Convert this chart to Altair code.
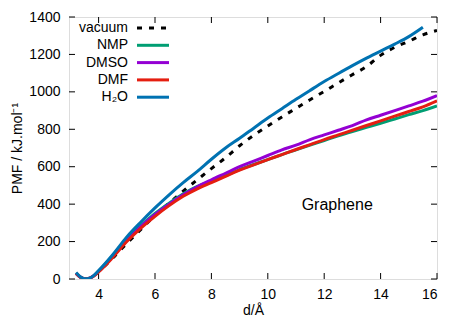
import altair as alt
import pandas as pd

# ---- data ----
x_sol = [3.2, 3.35, 3.5, 3.65, 3.8, 4.0, 4.5, 5.0, 5.5, 6.0, 6.5, 7.0, 7.5, 8.0, 8.5,
         9.0, 9.5, 10.0, 10.5, 11.0, 11.5, 12.0, 12.5, 13.0, 13.5, 14.0, 14.5, 15.0, 15.5, 16.0]
nmp = [30, 10, 1, 3, 14, 42, 125, 210, 285, 350, 405, 455, 495, 522, 552,
       585, 612, 638, 665, 690, 715, 740, 765, 788, 810, 832, 855, 878, 900, 925]
dmso = [30, 10, 1, 3, 14, 40, 120, 205, 280, 345, 400, 450, 493, 530, 565,
        600, 630, 660, 690, 715, 745, 770, 795, 820, 850, 875, 900, 925, 950, 980]
dmf = [30, 10, 1, 3, 13, 38, 115, 200, 272, 335, 392, 442, 482, 515, 548,
       582, 610, 638, 665, 692, 718, 745, 770, 795, 820, 845, 870, 895, 920, 952]

x_h2o = [3.2, 3.35, 3.5, 3.65, 3.8, 4.0, 4.5, 5.0, 5.5, 6.0, 6.5, 7.0, 7.5, 8.0, 8.5,
         9.0, 9.5, 10.0, 10.5, 11.0, 11.5, 12.0, 12.5, 13.0, 13.5, 14.0, 14.5, 15.0, 15.5]
h2o = [35, 12, 2, 3, 15, 45, 130, 225, 305, 380, 450, 515, 575, 640, 700,
       752, 806, 860, 910, 960, 1008, 1055, 1098, 1140, 1180, 1218, 1255, 1295, 1345]

x_vac = [3.5, 3.7, 4.0, 4.5, 5.0, 5.5, 6.0, 6.5, 7.0, 7.5, 8.0, 8.5, 9.0, 9.5, 10.0,
         10.5, 11.0, 11.5, 12.0, 12.5, 13.0, 13.5, 14.0, 14.5, 15.0, 15.5, 16.0]
vacuum = [0, 6, 40, 112, 190, 265, 340, 405, 470, 530, 590, 648, 712, 768, 818,
          866, 912, 958, 1002, 1048, 1092, 1135, 1195, 1238, 1270, 1305, 1328]

series_names = ["vacuum", "NMP", "DMSO", "DMF", "H\u2082O"]
series_colors = ["#000000", "#009e73", "#9400d3", "#e51e10", "#0072b2"]

x_ticks = [4, 6, 8, 10, 12, 14, 16]
y_ticks = [0, 200, 400, 600, 800, 1000, 1200, 1400]

annot_text = ["Graphene"]
annot_x = [11.2]
annot_y = [395]

# ---- layout ----
W, H = 368, 262
FONT = "Liberation Sans"
xs = alt.Scale(domain=[2.95, 16], nice=False, zero=False)
ys = alt.Scale(domain=[0, 1400], nice=False)
X_TITLE = "d/\u00c5"
Y_TITLE = "PMF / kJ.mol\u207b\u00b9"

ax_x = alt.Axis(values=x_ticks, ticks=False, grid=False, domain=False,
                format="d", labelOverlap=False,
                labelPadding=8, titlePadding=2, labelFontSize=14,
                titleFontSize=14, labelFont=FONT, titleFont=FONT,
                labelColor="black", titleColor="black", titleFontWeight="normal")
ax_y = alt.Axis(values=y_ticks, ticks=False, grid=False, domain=False,
                format="d", labelOverlap=False,
                labelPadding=9, titlePadding=4, labelFontSize=14,
                titleFontSize=14, labelFont=FONT, titleFont=FONT,
                labelColor="black", titleColor="black", titleFontWeight="normal")


def X(field):
    return alt.X(field, scale=xs, axis=ax_x, title=X_TITLE)


def Y(field):
    return alt.Y(field, scale=ys, axis=ax_y, title=Y_TITLE)


series_data = [
    (x_vac, vacuum),
    (x_sol, nmp),
    (x_sol, dmso),
    (x_sol, dmf),
    (x_h2o, h2o),
]

layers = []

# inward ticks
xt = pd.DataFrame({"t": x_ticks})
yt = pd.DataFrame({"t": y_ticks})
tick_col = "black"
layers.append(alt.Chart(xt).mark_rule(color=tick_col, strokeWidth=1).encode(
    x=X("t:Q"), y=alt.value(H), y2=alt.value(H - 6)))
layers.append(alt.Chart(xt).mark_rule(color=tick_col, strokeWidth=1).encode(
    x=X("t:Q"), y=alt.value(0), y2=alt.value(6)))
layers.append(alt.Chart(yt).mark_rule(color=tick_col, strokeWidth=1).encode(
    y=Y("t:Q"), x=alt.value(0), x2=alt.value(6)))
layers.append(alt.Chart(yt).mark_rule(color=tick_col, strokeWidth=1).encode(
    y=Y("t:Q"), x=alt.value(W), x2=alt.value(W - 6)))

# series
for name, color, (xv, yv) in zip(series_names, series_colors, series_data):
    df = pd.DataFrame({"d": xv, "pmf": yv, "series": name})
    mk = dict(color=color, strokeWidth=3, interpolate="monotone", clip=True)
    if name == "vacuum":
        mk["strokeDash"] = [5, 7]
    layers.append(alt.Chart(df).mark_line(**mk).encode(x=X("d:Q"), y=Y("pmf:Q")))

# annotation
layers.append(alt.Chart(pd.DataFrame({"t": annot_text, "x": annot_x, "y": annot_y}))
              .mark_text(align="left", baseline="middle", fontSize=16, font=FONT, color="black")
              .encode(x=X("x:Q"), y=Y("y:Q"), text="t:N"))

# legend (gnuplot style: right-aligned label, sample to the right)
row_y = [11 + 17.3 * r for r in range(len(series_names))]
for r, (name, color) in enumerate(zip(series_names, series_colors)):
    one = pd.DataFrame({"name": [name]})
    layers.append(alt.Chart(one).mark_text(align="right", baseline="middle", fontSize=14,
                                           font=FONT, color="black").encode(
        text="name:N", x=alt.value(59), y=alt.value(row_y[r])))
    rk = dict(color=color, strokeWidth=3)
    if name == "vacuum":
        rk["strokeDash"] = [5, 7]
    layers.append(alt.Chart(one).mark_rule(**rk).encode(
        x=alt.value(68), x2=alt.value(100), y=alt.value(row_y[r])))

chart = alt.layer(*layers).properties(
    width=W, height=H,
    autosize=alt.AutoSizeParams(type="none"),
    padding={"left": 61, "top": 9, "right": 10, "bottom": 38},
).configure_view(stroke="black", strokeWidth=1.5).configure(background="white")

chart.save("out.html", embed_options={"renderer": "svg", "actions": False})
